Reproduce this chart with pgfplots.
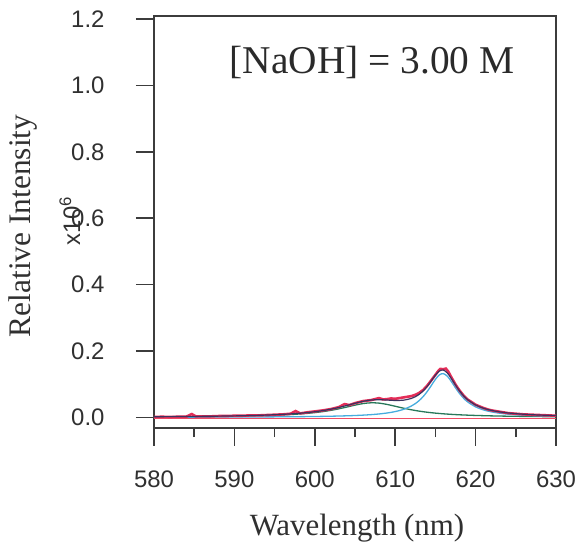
\documentclass[border=0pt]{standalone}
\usepackage{fontspec}
\setmainfont{Liberation Serif}
\setsansfont{Liberation Sans}
\usepackage{pgfplots}
\pgfplotsset{compat=1.18}
\definecolor{datared}{RGB}{228,45,88}
\definecolor{fitdark}{RGB}{60,50,95}
\definecolor{compgreen}{RGB}{40,120,90}
\definecolor{compblue}{RGB}{70,172,222}
\definecolor{basered}{RGB}{240,75,100}
\definecolor{axisgray}{RGB}{60,60,60}
\begin{document}
\begin{tikzpicture}
\begin{axis}[
  at={(0,0)}, anchor=south west,
  scale only axis, width=402bp, height=412bp,
  xmin=580, xmax=630, ymin=-0.032, ymax=1.209,
  axis line style={draw=axisgray, line width=1.6bp},
  every tick/.style={draw=axisgray, line width=1.6bp},
  tick align=outside,
  xtick pos=bottom, ytick pos=left,
  xtick={580,590,600,610,620,630},
  minor xtick={585,595,605,615,625},
  ytick={0,0.2,0.4,0.6,0.8,1.0,1.2},
  major tick length=18bp, minor tick length=9bp,
  tick label style={font=\fontsize{24}{24}\selectfont\sffamily, text=axisgray!80!black},
  /pgf/number format/assume math mode=true,
  yticklabel style={xshift=-28bp, /pgf/number format/.cd, fixed, fixed zerofill, precision=1},
  xticklabel style={yshift=-21bp, /pgf/number format/.cd, 1000 sep={}},
  clip=false,
]
% baseline
\addplot[basered, line width=1.4bp] coordinates {(580,-0.004) (630,-0.004)};
% green component
\addplot[compgreen, line width=1.3bp, smooth] coordinates {
(580,0.00144)(582,0.00167)(584,0.00195)(586,0.00232)(588,0.00279)(590,0.00343)
(592,0.00430)(594,0.00552)(596,0.00731)(597,0.00853)(598,0.01002)(599,0.01192)
(600,0.01433)(601,0.01732)(602,0.02115)(603,0.02579)(604,0.03121)(605,0.03685)
(606,0.04159)(607,0.04393)(608,0.04290)(609,0.03895)(610,0.03350)(611,0.02789)
(612,0.02290)(613,0.01876)(614,0.01544)(615,0.01281)(616,0.01074)(617,0.00909)
(618,0.00777)(619,0.00670)(620,0.00583)(622,0.00451)(624,0.00358)(626,0.00291)
(628,0.00240)(630,0.00202)};
% blue component
\addplot[compblue, line width=1.3bp, smooth] coordinates {
(580,0.00054)(584,0.00068)(588,0.00089)(592,0.00121)(596,0.00174)(598,0.00214)
(600,0.00270)(602,0.00352)(604,0.00475)(605,0.00563)(606,0.00676)(607,0.00827)
(608,0.01031)(609,0.01320)(610,0.01741)(611,0.02383)(612,0.03406)(612.5,0.04144)
(613,0.05097)(613.5,0.06319)(614,0.07846)(614.5,0.09632)(615,0.11447)(615.5,0.12813)
(616,0.13175)(616.5,0.12359)(617,0.10743)(617.5,0.08895)(618,0.07198)(618.5,0.05795)
(619,0.04686)(620,0.03160)(621,0.02231)(622,0.01643)(623,0.01254)(624,0.00985)
(625,0.00793)(626,0.00651)(627,0.00543)(628,0.00460)(629,0.00395)(630,0.00342)};
% data
\addplot[datared, line width=2.6bp] coordinates {
(580,0.001)(581,0.002)(582,0.001)(583,0.002)(584,0.002)(584.7,0.010)(585.2,0.003)
(586,0.003)(587,0.003)(588,0.004)(589,0.004)(590,0.005)(591,0.005)(592,0.006)
(593,0.006)(594,0.007)(595,0.008)(596,0.009)(597,0.011)(597.6,0.019)(598.2,0.012)
(599,0.015)(600,0.018)(601,0.021)(602,0.025)(603,0.031)(603.7,0.040)(604.3,0.037)
(605,0.043)(606,0.049)(607,0.052)(607.5,0.055)(608,0.058)(608.5,0.054)(609,0.055)
(609.5,0.057)(610,0.056)(610.5,0.058)(611,0.060)(611.5,0.062)(612,0.064)(612.5,0.068)
(613,0.074)(613.5,0.083)(614,0.096)(614.5,0.112)(615,0.128)(615.3,0.138)(615.6,0.146)
(616,0.145)(616.3,0.147)(616.6,0.138)(617,0.120)(617.5,0.099)(618,0.081)(618.5,0.066)
(619,0.054)(619.5,0.046)(620,0.038)(620.5,0.033)(621,0.028)(621.5,0.024)(622,0.021)
(623,0.017)(624,0.013)(625,0.011)(626,0.009)(627,0.008)(628,0.007)(629,0.006)(630,0.005)};
% fit sum
\addplot[fitdark, line width=1.2bp, smooth] coordinates {
(580,0.0020)(582,0.0023)(584,0.0026)(586,0.0031)(588,0.0037)(590,0.0045)(592,0.0055)
(594,0.0070)(596,0.0091)(597,0.0105)(598,0.0122)(599,0.0143)(600,0.0170)(601,0.0204)
(602,0.0247)(603,0.0299)(604,0.0360)(605,0.0425)(606,0.0484)(607,0.0522)(608,0.0532)
(609,0.0522)(610,0.0509)(611,0.0517)(612,0.0570)(612.5,0.0622)(613,0.0697)(613.5,0.0803)
(614,0.0939)(614.5,0.1104)(615,0.1273)(615.5,0.1398)(616,0.1425)(616.5,0.1335)
(617,0.1165)(617.5,0.0974)(618,0.0798)(618.5,0.0652)(619,0.0536)(620,0.0374)
(621,0.0274)(622,0.0209)(623,0.0166)(624,0.0134)(625,0.0112)(626,0.0094)(627,0.0081)
(628,0.0070)(629,0.0062)(630,0.0054)};
\end{axis}
\node[font=\fontsize{39.5}{40}\selectfont, text=axisgray!70!black] at (218bp,365.5bp) {[NaOH] = 3.00 M};
\node[font=\fontsize{31.5}{32}\selectfont, text=axisgray!80!black, rotate=90] at (-131bp,202bp) {Relative Intensity};
\node[font=\fontsize{24}{24}\selectfont\sffamily, text=axisgray!80!black, rotate=90] at (-84bp,207bp) {x10\textsuperscript{6}};
\node[font=\fontsize{31}{32}\selectfont, text=axisgray!80!black] at (203bp,-100bp) {Wavelength (nm)};
\pgfresetboundingbox
\path (-154bp,-118bp) rectangle (424bp,428bp);
\end{tikzpicture}
\end{document}
